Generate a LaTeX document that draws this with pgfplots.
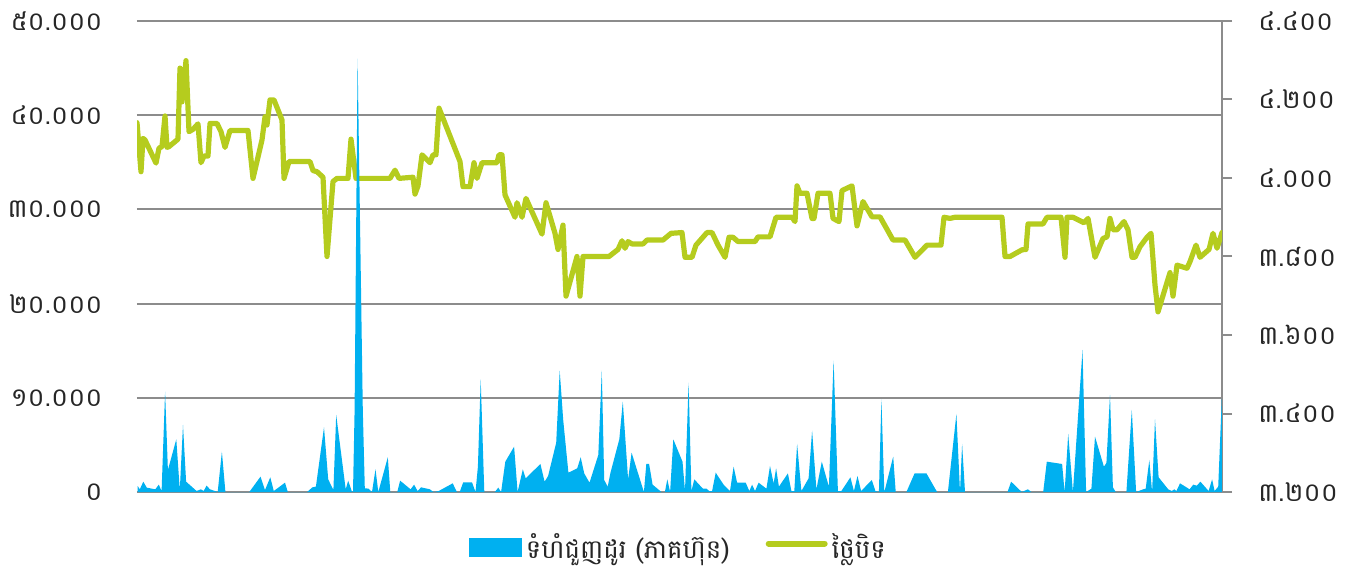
\documentclass[border=0pt]{standalone}
\usepackage{fontspec}
\setmainfont{Noto Sans}
\newfontfamily\kh[Script=Khmer]{Battambang}
\usepackage{pgfplots}
\usepackage{pgfplotstable}
\pgfplotsset{compat=1.18}

\definecolor{volblue}{HTML}{00B0F0}
\definecolor{pricegreen}{HTML}{B5CC1E}
\definecolor{gridgray}{HTML}{8C8C8C}
\definecolor{labelgray}{HTML}{262626}

% trading volume (shares)
\pgfplotstableread{
x vol
137.7 637
139.8 287
143.3 1097
146.8 460
155.3 287
158.8 779
161.6 106
165.1 10655
167.9 2336
176.3 5593
179.8 212
183.0 7115
186.1 1097
196.6 106
200.9 287
203.7 106
206.5 673
210.0 287
217.7 0
221.9 4283
225.4 0
249.3 0
260.5 1629
265.0 212
270.3 1558
273.8 106
285.0 991
287.8 0
307.1 0
312.4 496
315.9 566
324.0 6867
328.2 1345
333.4 212
336.2 8177
345.7 287
348.2 1204
351.7 106
353.0 0
354.6 8700
357.6 46000
362.8 8700
364.8 400
368.5 354
372.0 0
375.5 2406
378.3 0
387.8 3685
390.3 0
397.3 0
400.1 1204
410.6 287
414.1 779
417.6 106
421.1 496
429.9 287
433.4 0
438.7 106
452.7 920
456.9 0
459.7 0
463.2 1026
472.0 1026
475.5 0
477.9 2690
480.7 11964
484.3 0
494.8 0
498.3 460
501.1 0
505.3 3222
514.1 4814
517.6 0
522.8 2406
525.7 1452
540.4 2974
544.6 1097
548.1 1699
556.2 5239
559.7 12885
563.2 7646
568.4 2053
577.2 2513
580.7 3685
584.2 1982
589.5 991
598.3 3929
601.8 12885
604.2 1274
607.7 566
610.5 2053
619.3 5593
622.8 9593
628.1 1345
631.6 4177
643.9 0
646.3 2974
649.1 2974
652.6 779
661.4 0
664.9 0
667.3 1345
670.1 0
673.3 5593
682.5 3222
685.0 106
688.6 11611
691.4 106
694.3 1345
702.9 354
706.4 354
709.3 106
712.1 106
715.7 2053
723.6 779
730.0 106
733.6 2690
737.1 991
745.7 991
749.3 106
752.1 779
755.0 106
758.6 991
766.4 354
770.0 2761
773.6 920
776.1 2513
778.9 566
787.9 1982
791.4 106
794.3 106
797.1 5098
801.4 106
808.6 1452
812.1 6513
816.4 287
821.8 3222
828.9 566
833.6 13948
837.9 106
841.4 106
850.4 1558
853.9 106
857.5 1699
861.1 106
871.8 1274
875.4 106
878.9 0
881.4 9841
884.3 0
893.2 3752
895.7 0
906.4 0
914.6 1982
926.4 1982
937.1 0
947.9 0
956.4 8284
960.0 0
962.1 5098
965.0 0
1007.5 0
1011.1 1097
1021.8 0
1027.9 287
1031.4 0
1043.2 0
1046.8 3222
1062.1 2974
1064.6 0
1068.2 6159
1072.9 0
1082.5 15080
1086.1 0
1091.4 354
1095.0 5877
1103.9 2690
1106.4 3081
1110.0 10302
1112.9 496
1115.7 0
1126.4 0
1131.8 8708
1136.1 0
1143.2 287
1145.7 354
1149.3 3398
1152.1 0
1155.0 7717
1158.6 1558
1168.2 287
1171.8 106
1174.3 287
1176.4 106
1180.0 920
1189.6 287
1193.2 779
1196.8 673
1200.4 1097
1208.6 106
1212.1 1345
1214.6 106
1218.2 566
1221.8 9947
}\voltable

% closing price
\pgfplotstableread{
x price
137 4141
141 4016
143 4101
145 4097
156 4038
159 4076
162 4080
165 4158
167 4078
169 4080
178 4099
180 4280
182 4194
186 4299
189 4118
193 4124
198 4138
201 4039
204 4056
208 4056
210 4139
217 4139
221 4118
225 4078
230 4121
248 4121
253 3999
262 4097
265 4156
267 4135
270 4199
274 4199
282 4148
284 3999
289 4042
310 4042
313 4019
317 4016
323 4002
327 3800
333 3991
337 3999
348 3999
351 4099
356 3999
390 3999
395 4020
399 3999
413 4002
415 3959
418 3980
422 4059
430 4039
433 4059
436 4059
439 4178
460 4042
463 3978
470 3978
474 4039
477 3999
482 4039
497 4039
499 4059
502 4059
505 3957
515 3900
517 3937
522 3900
526 3948
542 3857
546 3937
555 3859
558 3818
563 3880
566 3699
577 3800
580 3699
583 3800
609 3800
618 3818
622 3840
625 3821
628 3838
632 3832
643 3832
647 3842
663 3842
671 3859
682 3861
685 3798
692 3798
696 3829
707 3861
712 3861
718 3829
725 3798
729 3849
733 3849
738 3838
755 3838
758 3850
770 3850
776 3900
792 3900
795 3889
797 3980
800 3961
807 3961
812 3897
814 3897
818 3961
830 3961
833 3897
839 3889
842 3968
852 3980
857 3878
863 3940
872 3901
880 3901
893 3842
905 3842
915 3798
927 3829
941 3829
944 3900
950 3897
955 3900
1002 3900
1005 3800
1010 3800
1022 3817
1026 3818
1028 3883
1043 3883
1047 3900
1061 3900
1065 3798
1067 3900
1073 3900
1084 3886
1088 3897
1095 3798
1103 3846
1107 3850
1110 3897
1113 3868
1117 3868
1124 3889
1128 3868
1132 3798
1135 3798
1140 3825
1147 3849
1151 3859
1155 3727
1158 3659
1170 3759
1173 3699
1177 3778
1187 3770
1190 3787
1196 3829
1200 3798
1209 3818
1213 3859
1217 3821
1222 3861
}\pricetable

\pgfplotsset{
  base/.style={
    width=542.5pt, height=235.5pt, scale only axis,
    xmin=137, xmax=1222,
    scaled y ticks=false, scaled x ticks=false,
  },
  ticklab/.style={
    font=\kh\fontsize{13}{13}\selectfont, text=labelgray, inner sep=0pt,
  },
}

\begin{document}
\begin{tikzpicture}
% left scale: grid, labels, legend
\begin{axis}[
  base,
  ymin=0, ymax=50000,
  ytick={0,10000,20000,30000,40000,50000},
  yticklabels={០,១០.០០០,២០.០០០,៣០.០០០,៤០.០០០,៥០.០០០},
  yticklabel style={ticklab, xshift=-17pt},
  xtick=\empty,
  axis line style={draw=none},
  major tick length=0pt,
  ymajorgrids,
  grid style={gridgray, line width=1pt},
  legend columns=2,
  legend style={
    at={(0.5,-0.118)}, anchor=center, draw=none, fill=none,
    font=\kh\fontsize{13}{15}\selectfont, text=labelgray,
    /tikz/every even column/.append style={column sep=16pt},
  },
]
\addlegendimage{legend image code/.code={\fill[volblue] (0pt,-4.5pt) rectangle (26pt,4.5pt);}}
\addlegendentry{ទំហំជួញដូរ (ភាគហ៊ុន)}
\addlegendimage{legend image code/.code={\draw[pricegreen, line width=3pt, line cap=round] (0pt,2pt) -- (28pt,2pt);}}
\addlegendentry{ថ្លៃបិទ}
\end{axis}

% right scale: closing price
\begin{axis}[
  base,
  ymin=3200, ymax=4400,
  ytick={3200,3400,3600,3800,4000,4200,4400},
  yticklabels={៣.២០០,៣.៤០០,៣.៦០០,៣.៨០០,៤.០០០,៤.២០០,៤.៤០០},
  yticklabel style={ticklab, xshift=13pt},
  axis x line=none,
  axis y line*=right,
  y axis line style={gridgray, line width=1pt, -},
  ytick style={gridgray, line width=1pt},
  tick align=outside,
  major tick length=5pt,
]
\addplot[pricegreen, line width=2.6pt, line join=round, line cap=round] table[x=x, y=price] {\pricetable};
\end{axis}

% volume area, drawn over the price line
\begin{axis}[
  base,
  name=ax,
  ymin=0, ymax=50000,
  hide axis,
]
\addplot[fill=volblue, draw=none] table[x=x, y=vol] {\voltable} \closedcycle;
\end{axis}

\pgfresetboundingbox
\path[use as bounding box] ([shift={(-68.5pt,-40.5pt)}]ax.south west) rectangle ([shift={(65pt,10.5pt)}]ax.north east);
\end{tikzpicture}
\end{document}
